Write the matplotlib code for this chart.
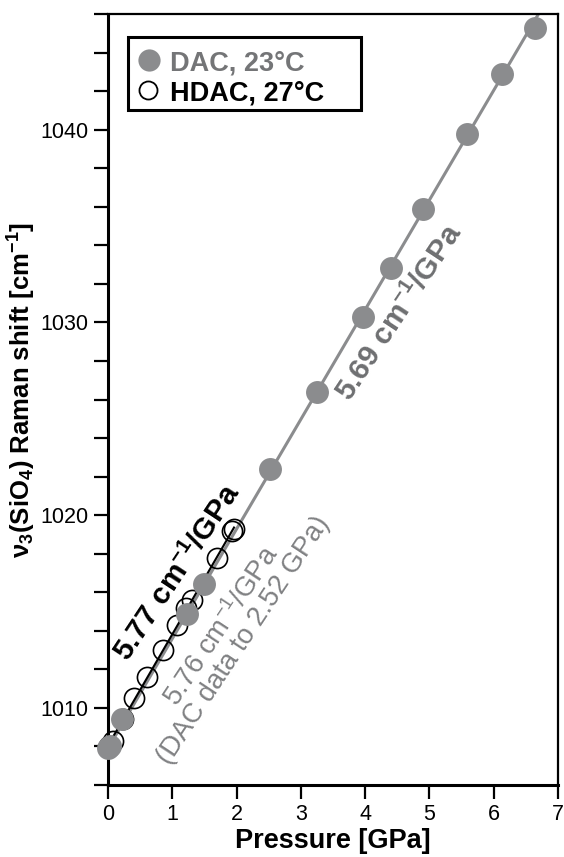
import numpy as np
import matplotlib
matplotlib.use("Agg")
import matplotlib.pyplot as plt
from matplotlib.patches import Rectangle

plt.rcParams['font.family'] = ['Liberation Sans', 'DejaVu Sans']
plt.rcParams['mathtext.fontset'] = 'custom'
plt.rcParams['mathtext.rm'] = 'Liberation Sans'
plt.rcParams['mathtext.bf'] = 'Liberation Sans:bold'
plt.rcParams['mathtext.it'] = 'Liberation Sans:italic'
plt.rcParams['mathtext.sf'] = 'Liberation Sans'

# DAC measurements at 23 °C
dac_p = [0.00, 0.03, 0.22, 1.23, 1.49, 2.52, 3.25, 3.97, 4.40, 4.90, 5.58, 6.13, 6.64]
dac_shift = [1007.9, 1008.0, 1009.4, 1014.85, 1016.45, 1022.4, 1026.4, 1030.3,
             1032.8, 1035.9, 1039.8, 1042.9, 1045.3]

# HDAC measurements at 27 °C
hdac_p = [0.02, 0.08, 0.24, 0.40, 0.60, 0.85, 1.07, 1.22, 1.30, 1.70, 1.93, 1.96]
hdac_shift = [1008.0, 1008.3, 1009.4, 1010.5, 1011.6, 1013.0, 1014.3, 1015.2,
              1015.6, 1017.8, 1019.2, 1019.3]

# slopes of the linear fits (cm^-1 / GPa)
dac_slope = 5.69
hdac_slope = 5.77
dac_low_slope = 5.76

legend_labels = ['DAC, 23°C', 'HDAC, 27°C']
x_ticks = [0, 1, 2, 3, 4, 5, 6, 7]
y_major = [1010, 1020, 1030, 1040]

GRAY = '#8b8c8e'

fig = plt.figure(figsize=(5.64, 8.57), dpi=100)
ax = fig.add_axes([0.1915, 0.084, 0.7979, 0.8996])
ax.set_xlim(0, 7)
ax.set_ylim(1006, 1046)

dp = np.array(dac_p)
ds = np.array(dac_shift)
hp = np.array(hdac_p)
hs = np.array(hdac_shift)

# fit lines with the stated slopes
b_dac = np.mean(ds - dac_slope * dp)
b_hdac = np.mean(hs - hdac_slope * hp)
xl = np.array([0.0, 7.0])
ax.plot(xl, b_dac + dac_slope * xl, color=GRAY, lw=2.2, zorder=2)
xh = np.array([0.0, max(hdac_p)])
ax.plot(xh, b_hdac + hdac_slope * xh, color='black', lw=1.5, zorder=3)

ax.plot(hp, hs, linestyle='none', marker='o', ms=14.5, mfc='none',
        mec='black', mew=1.2, zorder=4, clip_on=False)
ax.plot(dp, ds, linestyle='none', marker='o', ms=16.5, mfc=GRAY,
        mec=GRAY, mew=0, zorder=5, clip_on=False)

# axes styling
for side in ['left', 'bottom']:
    ax.spines[side].set_linewidth(2.2)
for side in ['top', 'right']:
    ax.spines[side].set_linewidth(1.6)

ax.set_xticks(x_ticks)
ax.set_xticklabels([str(v) for v in x_ticks])
ax.set_yticks(np.arange(1006, 1047, 2))
ax.set_yticklabels([str(v) if v in y_major else '' for v in range(1006, 1047, 2)])
ax.tick_params(axis='both', direction='out', length=10, width=1.6,
               labelsize=15.5, pad=4)

ax.set_xlabel('Pressure [GPa]', fontsize=19.5, fontweight='bold', labelpad=2)
ax.set_ylabel(r'ν$_\mathbf{3}$(SiO$_\mathbf{4}$) Raman shift [cm$^\mathbf{-1}$]',
              fontsize=18.5, fontweight='bold')
ax.yaxis.set_label_coords(-0.155, 0.512)

# legend box drawn in axes coordinates
ax.add_patch(Rectangle((0.0444, 0.8755), 0.5178, 0.0947, transform=ax.transAxes,
                       facecolor='white', edgecolor='black', lw=2.2, zorder=6))
ax.plot([0.0911], [0.9403], transform=ax.transAxes, linestyle='none', marker='o',
        ms=16, mfc=GRAY, mec=GRAY, mew=0, zorder=7)
ax.plot([0.0889], [0.9014], transform=ax.transAxes, linestyle='none', marker='o',
        ms=13, mfc='none', mec='black', mew=1.3, zorder=7)
ax.text(0.1378, 0.9403, legend_labels[0], transform=ax.transAxes, ha='left',
        va='center_baseline', fontsize=19.5, fontweight='bold', color='#747577', zorder=7)
ax.text(0.1378, 0.9014, legend_labels[1], transform=ax.transAxes, ha='left',
        va='center_baseline', fontsize=19.5, fontweight='bold', color='black', zorder=7)

# slope annotations
ax.text(4.54, 1030.5, r'5.69 cm$^{\mathbf{-1}}$/GPa', rotation=56.5,
        rotation_mode='anchor', ha='center', va='center',
        fontsize=21.5, fontweight='bold', color='#6e6f71')
ax.text(1.08, 1017.0, r'5.77 cm$^{\mathbf{-1}}$/GPa', rotation=56.5,
        rotation_mode='anchor', ha='center', va='center',
        fontsize=21.5, fontweight='bold', color='black')
ax.text(1.94, 1013.9, '5.76 cm$^{-1}$/GPa\n(DAC data to 2.52 GPa)', rotation=56.5,
        rotation_mode='anchor', ha='center', va='center', multialignment='center',
        fontsize=19.8, color='#808183', linespacing=0.95)

fig.savefig('out.png', dpi=100)
